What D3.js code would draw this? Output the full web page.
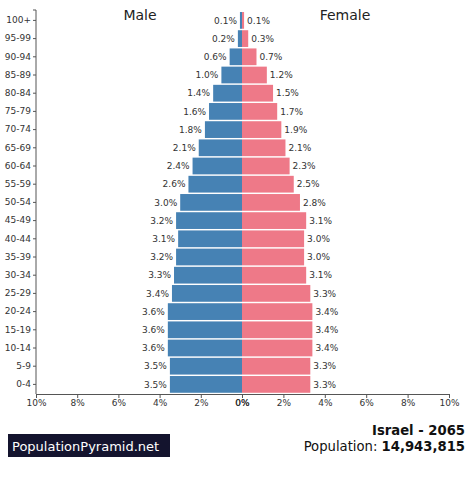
<!DOCTYPE html>
<html><head><meta charset="utf-8">
<script src="https://cdn.jsdelivr.net/npm/d3@7/dist/d3.min.js"></script>
<style>body{margin:0;background:#fff}svg{display:block;font-family:"DejaVu Sans",sans-serif}</style>
</head><body><svg id="c" width="474" height="478"></svg>
<script>
const ages = ["100+","95-99","90-94","85-89","80-84","75-79","70-74","65-69","60-64","55-59","50-54","45-49","40-44","35-39","30-34","25-29","20-24","15-19","10-14","5-9","0-4"];
const male = [0.1,0.2,0.6,1.0,1.4,1.6,1.8,2.1,2.4,2.6,3.0,3.2,3.1,3.2,3.3,3.4,3.6,3.6,3.6,3.5,3.5];
const female = [0.1,0.3,0.7,1.2,1.5,1.7,1.9,2.1,2.3,2.5,2.8,3.1,3.0,3.0,3.1,3.3,3.4,3.4,3.4,3.3,3.3];
const ticks = [0,2,4,6,8,10];
const country = "Israel - 2065";
const population = "14,943,815";

const svg = d3.select("#c");
const x0 = 242;
const xl = d3.scaleLinear().domain([10,0]).range([36,x0]);
const xr = d3.scaleLinear().domain([0,10]).range([x0,449]);
const y = d3.scaleBand().domain(ages).range([11.3,393.5]).paddingInner(0.08).paddingOuter(0.04);
const textCol = "#333";

// bars
svg.append("g").selectAll("rect").data(ages).join("rect")
  .attr("x",(d,i)=>xl(male[i])).attr("y",d=>y(d))
  .attr("width",(d,i)=>x0-xl(male[i])).attr("height",y.bandwidth())
  .attr("fill","#4682b4");
svg.append("g").selectAll("rect").data(ages).join("rect")
  .attr("x",x0).attr("y",d=>y(d))
  .attr("width",(d,i)=>xr(female[i])-x0).attr("height",y.bandwidth())
  .attr("fill","#ee7988");

// value labels
svg.append("g").selectAll("text").data(ages).join("text")
  .attr("x",(d,i)=>xl(male[i])-3).attr("y",d=>y(d)+y.bandwidth()/2)
  .attr("dy","0.35em").attr("text-anchor","end").attr("font-size",9).attr("fill",textCol)
  .text((d,i)=>male[i].toFixed(1)+"%");
svg.append("g").selectAll("text").data(ages).join("text")
  .attr("x",(d,i)=>xr(female[i])+3).attr("y",d=>y(d)+y.bandwidth()/2)
  .attr("dy","0.35em").attr("text-anchor","start").attr("font-size",9).attr("fill",textCol)
  .text((d,i)=>female[i].toFixed(1)+"%");

// y axis
const ya = svg.append("g").attr("transform","translate(36,0)")
  .call(d3.axisLeft(y).tickSize(3).tickPadding(2));
ya.select(".domain").attr("d","M-3,10H0V394");
// x axes
const fmt = d=>d+"%";
const xa1 = svg.append("g").attr("transform","translate(0,394)").call(d3.axisBottom(xl).tickValues(ticks).tickFormat(fmt).tickSize(4).tickSizeOuter(0).tickPadding(2));
const xa2 = svg.append("g").attr("transform","translate(0,394)").call(d3.axisBottom(xr).tickValues(ticks).tickFormat(fmt).tickSize(4).tickSizeOuter(0).tickPadding(2));
svg.selectAll(".tick text").attr("font-size",9).attr("fill",textCol).attr("font-family","DejaVu Sans");
svg.selectAll(".domain, .tick line").attr("stroke","#555");
xa1.selectAll(".tick").filter(d=>d===0).select("text").attr("fill","#222");

// titles
svg.append("text").attr("x",140).attr("y",20).attr("text-anchor","middle").attr("font-size",14).attr("fill","#222").text("Male");
svg.append("text").attr("x",345).attr("y",20).attr("text-anchor","middle").attr("font-size",14).attr("fill","#222").text("Female");

// footer
svg.append("rect").attr("x",8).attr("y",434).attr("width",162).attr("height",23).attr("fill","#14142e");
svg.append("text").attr("x",12).attr("y",450.5).attr("font-size",13).attr("fill","#fff").text("PopulationPyramid.net");
svg.append("text").attr("x",465).attr("y",435).attr("text-anchor","end").attr("font-size",13.2).attr("font-weight","bold").attr("fill","#111").text(country);
const pt = svg.append("text").attr("x",465).attr("y",451).attr("text-anchor","end").attr("font-size",13.2).attr("fill","#111");
pt.append("tspan").text("Population: ");
pt.append("tspan").attr("font-weight","bold").text(population);
</script></body></html>
